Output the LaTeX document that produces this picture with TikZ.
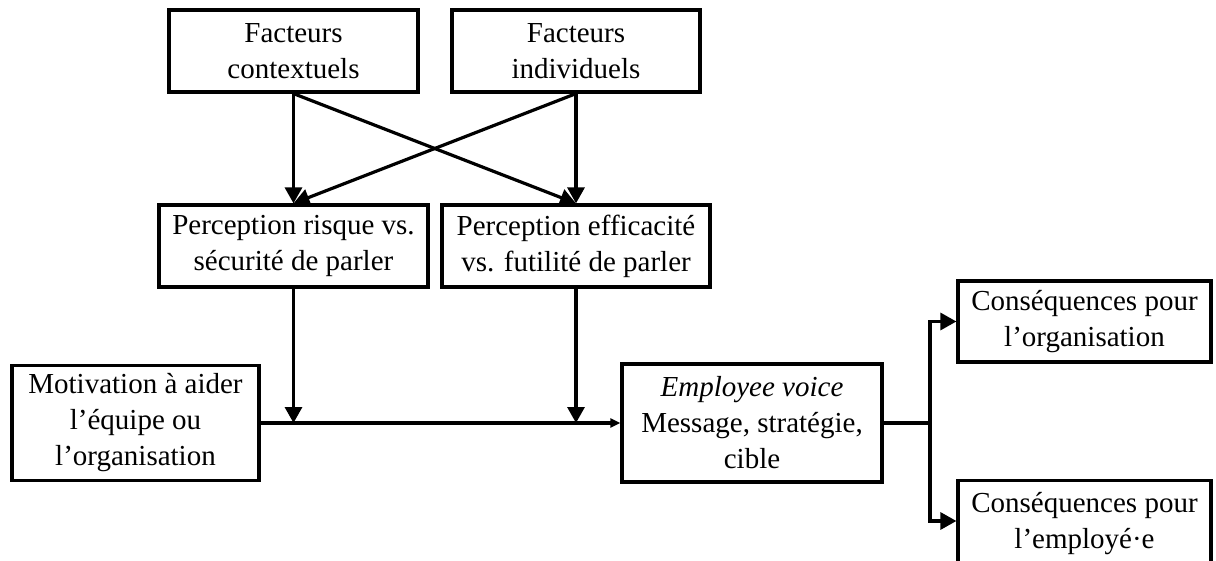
\documentclass[tikz,border=0pt]{standalone}
\usepackage{fontspec}
\setmainfont{Liberation Serif}
\usetikzlibrary{positioning, calc, arrows.meta}
\tikzstyle{Box} = [draw, line width=3.2pt, align=center, inner sep=0pt,
font=\fontsize{29}{36}\selectfont]
\tikzstyle{Arrow} = [line width=3.2pt, -{Triangle[length=16pt, width=17pt]}]
\tikzstyle{Thin} = [line width=3.2pt, -{Triangle[length=10pt, width=9pt]}]
\tikzstyle{Line} = [line width=3.2pt]

\begin{document}
\begin{tikzpicture}[x=1pt, y=-1pt]
    \useasboundingbox (0,0) rectangle (1216,561);
    \node [Box, minimum width=249pt, minimum height=82pt] (1) at (293.5,51) {Facteurs\\contextuels};
    \node [Box, minimum width=248pt, minimum height=82pt] (2) at (576,51) {Facteurs\\individuels};
    \node [Box, minimum width=269pt, minimum height=82pt] (3) at (293.5,246) {Perception risque vs.\\sécurité de parler};
    \node [Box, minimum width=268pt, minimum height=82pt] (4) at (576,246) {Perception efficacité\\vs. futilité de parler};
    \node [Box, minimum width=247pt, minimum height=115pt] (5) at (135.5,423) {Motivation à aider\\l’équipe ou\\l’organisation};
    \node [Box, minimum width=260pt, minimum height=118pt] (6) at (752,423) {\textit{Employee voice}\\Message, stratégie,\\cible};
    \node [Box, minimum width=253pt, minimum height=81pt] (7) at (1084.5,321.5) {Conséquences pour\\l’organisation};
    % bottom edge falls off the page
    \node [Box, minimum width=253pt, minimum height=86pt] (8) at (1084.5,523.5) {Conséquences pour\\l’employé·e};
    \coordinate (9) at (930,423);

    \draw[Arrow] (1.south)--(3.north);
    \draw[Arrow] (2.south)--(4.north);
    \draw[Arrow] (1.south)--(4.north);
    \draw[Arrow] (2.south)--(3.north);
    \draw[Thin] (5.east)--(6.west);
    \draw[Arrow] (3.south)--(3.south |- 5.east);
    \draw[Arrow] (4.south)--(4.south |- 5.east);
    \draw[Line] (6.east)--(9);
    \draw[Arrow] (9) |- (7.west);
    \draw[Arrow] (9) |- ([yshift=2.5pt]8.west);
\end{tikzpicture}
\end{document}
